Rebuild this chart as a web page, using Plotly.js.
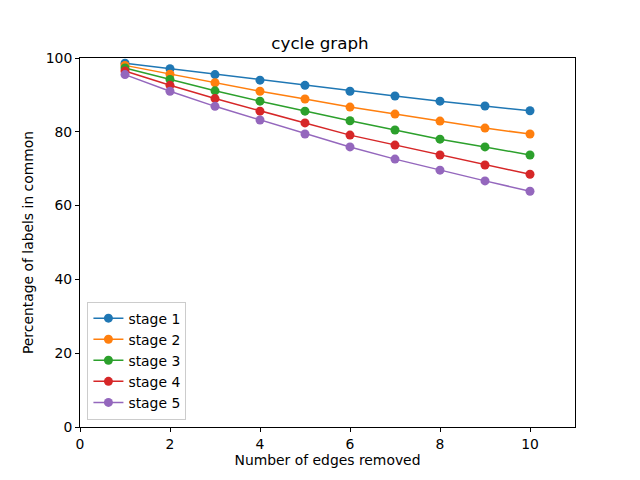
<!DOCTYPE html>
<html>
<head>
<meta charset="utf-8">
<script src="https://cdn.plot.ly/plotly-3.0.1.min.js"></script>
<style>body{margin:0;padding:0;background:#fff}#chart{width:640px;height:480px}</style>
</head>
<body>
<div id="chart"></div>
<script>
const edgesRemoved = [1, 2, 3, 4, 5, 6, 7, 8, 9, 10];
const stage1 = [98.6, 97.1, 95.5, 94.0, 92.6, 91.0, 89.7, 88.3, 87.0, 85.7];
const stage2 = [98.0, 95.6, 93.3, 91.0, 88.9, 86.7, 84.8, 82.9, 81.0, 79.4];
const stage3 = [97.3, 94.2, 91.1, 88.3, 85.6, 83.0, 80.5, 78.0, 75.9, 73.7];
const stage4 = [96.5, 92.6, 89.0, 85.6, 82.4, 79.1, 76.4, 73.7, 71.0, 68.5];
const stage5 = [95.5, 91.0, 86.9, 83.2, 79.4, 75.9, 72.6, 69.6, 66.7, 63.9];
const seriesNames = ['stage 1', 'stage 2', 'stage 3', 'stage 4', 'stage 5'];
const seriesColors = ['#1f77b4', '#ff7f0e', '#2ca02c', '#d62728', '#9467bd'];
const allSeries = [stage1, stage2, stage3, stage4, stage5];

const traces = allSeries.map((ys, i) => ({
  x: edgesRemoved,
  y: ys,
  name: seriesNames[i],
  type: 'scatter',
  mode: 'lines+markers',
  line: {color: seriesColors[i], width: 1.5},
  marker: {color: seriesColors[i], size: 9}
}));

const FS = 13.9;
const axisCommon = {
  showgrid: false,
  zeroline: false,
  showline: true,
  mirror: true,
  linecolor: '#000',
  linewidth: 1,
  ticks: 'outside',
  ticklen: 4,
  tickcolor: '#000',
  tickfont: {family: 'DejaVu Sans', size: FS, color: '#000'}
};

const layout = {
  width: 640,
  height: 480,
  paper_bgcolor: '#fff',
  plot_bgcolor: '#fff',
  margin: {l: 80, r: 65, t: 58, b: 53},
  font: {family: 'DejaVu Sans', size: FS, color: '#000'},
  title: {text: 'cycle graph', font: {family: 'DejaVu Sans', size: 16.7, color: '#000'}, x: 0.5, xanchor: 'center', y: 0.91, yanchor: 'middle'},
  xaxis: Object.assign({}, axisCommon, {
    range: [0, 11],
    tickvals: [0, 2, 4, 6, 8, 10],
    title: {text: 'Number of edges removed', font: {family: 'DejaVu Sans', size: FS, color: '#000'}, standoff: 4}
  }),
  yaxis: Object.assign({}, axisCommon, {
    range: [0, 100],
    tickvals: [0, 20, 40, 60, 80, 100],
    title: {text: 'Percentage of labels in common', font: {family: 'DejaVu Sans', size: FS, color: '#000'}, standoff: 8}
  }),
  showlegend: true,
  legend: {
    x: 0.015, y: 0.02, xanchor: 'left', yanchor: 'bottom',
    bgcolor: 'rgba(255,255,255,0.8)',
    bordercolor: '#cccccc',
    borderwidth: 1,
    font: {family: 'DejaVu Sans', size: FS, color: '#000'},
    tracegroupgap: 0,
    itemwidth: 30
  }
};

Plotly.newPlot('chart', traces, layout, {displayModeBar: false, staticPlot: true});
</script>
</body>
</html>
